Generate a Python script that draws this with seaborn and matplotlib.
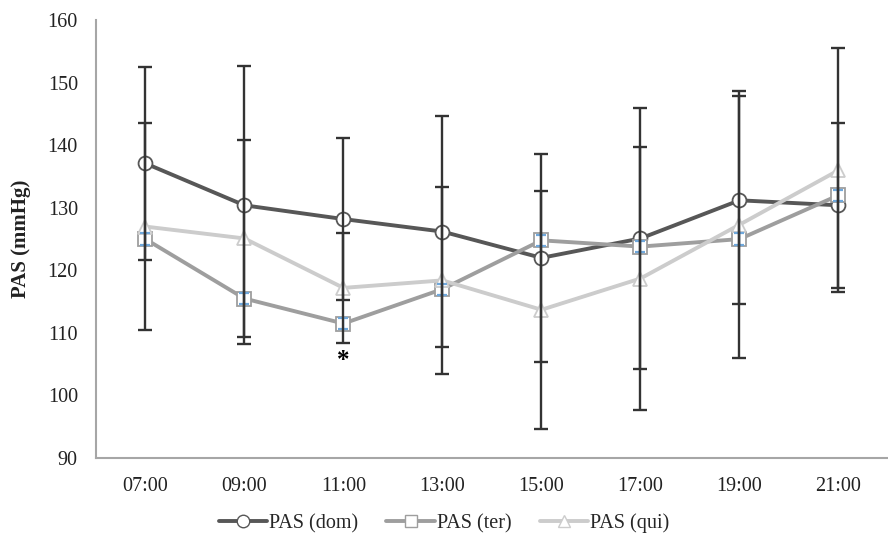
import numpy as np
import pandas as pd
import matplotlib
matplotlib.use("Agg")
import matplotlib.pyplot as plt
import seaborn as sns
from matplotlib.lines import Line2D

# Dados (média e desvio)
horas = ["07:00", "09:00", "11:00", "13:00", "15:00", "17:00", "19:00", "21:00"]
pas_dom = [137.1, 130.4, 128.2, 126.2, 122.0, 125.1, 131.2, 130.4]
dp_dom = [15.4, 22.2, 13.0, 18.5, 16.6, 20.9, 16.6, 13.2]
pas_ter = [125.0, 115.5, 111.5, 117.0, 124.8, 123.8, 125.0, 132.0]
dp_ter = [0.9, 0.9, 0.9, 0.9, 0.9, 0.9, 0.9, 0.9]
pas_qui = [127.0, 125.1, 117.2, 118.4, 113.7, 118.7, 127.3, 136.0]
dp_qui = [16.6, 15.7, 8.8, 15.0, 19.0, 21.0, 21.3, 19.5]
series = ["PAS (dom)", "PAS (ter)", "PAS (qui)"]

sns.set_style("white")
plt.rcParams["font.family"] = ["Liberation Serif", "DejaVu Serif"]

pos = np.arange(len(horas))
df = pd.DataFrame({
    "pos": np.tile(pos, 3),
    "pas": pas_dom + pas_ter + pas_qui,
    "dp": dp_dom + dp_ter + dp_qui,
    "serie": np.repeat(series, len(horas)),
})

cores = {"PAS (dom)": "#575757", "PAS (ter)": "#9e9e9e", "PAS (qui)": "#cccccc"}
marcadores = {"PAS (dom)": "o", "PAS (ter)": "s", "PAS (qui)": "^"}

fig = plt.figure(figsize=(8.88, 5.44), dpi=100)
ax = fig.add_axes([0.108, 0.158, 0.892, 0.805])

for s in series:
    d = df[df["serie"] == s]
    sns.lineplot(data=d, x="pos", y="pas", color=cores[s], marker=marcadores[s],
                 markersize=10, markerfacecolor="white", markeredgecolor=cores[s],
                 markeredgewidth=1.3, linewidth=2.8, ax=ax, zorder=3)

# barras azuis pequenas da série ter, depois as barras escuras por cima
d = df[df["serie"] == "PAS (ter)"]
ax.errorbar(d["pos"], d["pas"], yerr=d["dp"], fmt="none", ecolor="#6fa8dc",
            elinewidth=1.0, capsize=3.5, capthick=1.6, zorder=4)
for s in ["PAS (dom)", "PAS (qui)"]:
    d = df[df["serie"] == s]
    ax.errorbar(d["pos"], d["pas"], yerr=d["dp"], fmt="none", ecolor="#333333",
                elinewidth=1.7, capsize=5, capthick=1.7, zorder=5)

# asterisco em 11:00
ax.text(2, 105.6, "*", ha="center", va="center", fontsize=18, fontweight="bold",
        color="black", zorder=6)

ax.set_xlim(-0.5, 7.4)
ax.set_ylim(90, 160)
ax.set_yticks(np.arange(90, 161, 10))
ax.set_xticks(np.arange(-0.5, 8, 1))
ax.set_xticklabels([])
ax.set_xticks(pos, minor=True)
ax.set_xticklabels(horas, minor=True)
ax.tick_params(axis="x", which="major", length=4, width=1.2, color="#a6a6a6", direction="out")
ax.tick_params(axis="x", which="minor", length=0, pad=14, labelsize=14.5, colors="#222222")
ax.tick_params(axis="y", length=4, width=1.2, color="#a6a6a6", direction="out",
               pad=9, labelsize=14.5, labelcolor="#222222")
ax.set_xlabel("")
ax.set_ylabel("PAS (mmHg)", fontsize=15, fontweight="bold", labelpad=12, color="#222222")

sns.despine(ax=ax)
for sp in ["left", "bottom"]:
    ax.spines[sp].set_color("#a6a6a6")
    ax.spines[sp].set_linewidth(1.5)

handles = [Line2D([0], [0], color=cores[s], marker=marcadores[s], markersize=9,
                  markerfacecolor="white", markeredgecolor=cores[s], linewidth=2.8)
           for s in series]
fig.legend(handles, series, loc="center", bbox_to_anchor=(0.5, 0.038), ncol=3,
           frameon=False, fontsize=14.5, handlelength=2.4, handletextpad=0.1,
           columnspacing=1.4)

fig.savefig("out.png", dpi=100)
